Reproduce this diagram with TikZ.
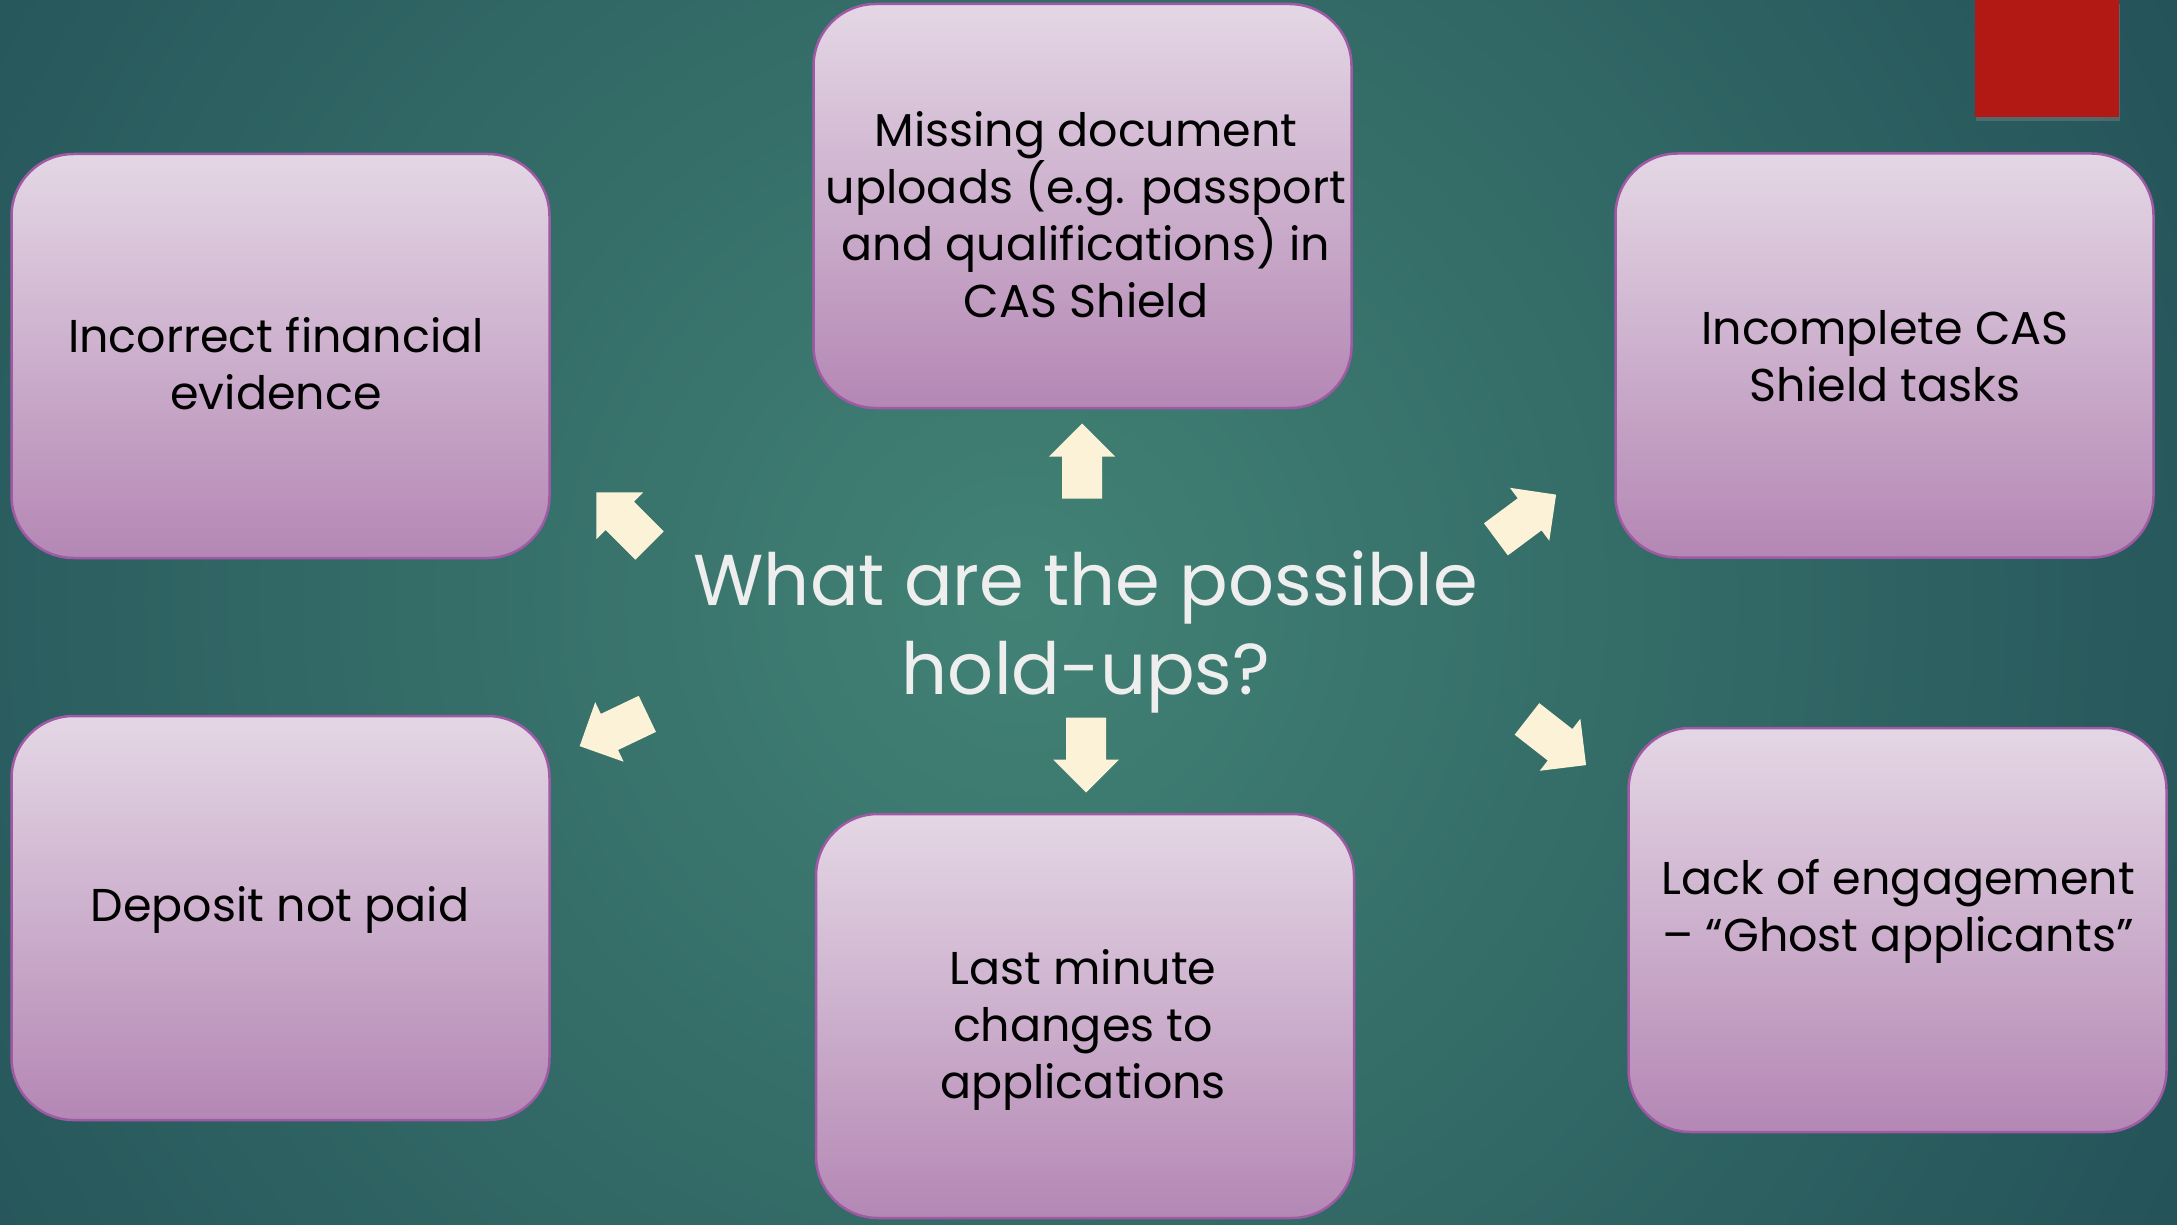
\documentclass[tikz,border=0pt]{standalone}
\usepackage{fontspec}
\setmainfont{Poppins}
\usetikzlibrary{shadows}
\definecolor{bgedge}{RGB}{20,58,74}
\definecolor{bgmid}{RGB}{66,130,117}
\definecolor{boxtop}{RGB}{228,215,229}
\definecolor{boxbot}{RGB}{180,135,180}
\definecolor{boxline}{RGB}{160,90,165}
\definecolor{cream}{RGB}{251,242,216}
\definecolor{redbox}{RGB}{178,24,20}
\definecolor{titlecol}{RGB}{238,238,238}
\tikzset{
  pics/blockarrow/.style={code={
    \fill[cream] (-37.5,-20) -- (4.5,-20) -- (4.5,-33) -- (37.5,0) -- (4.5,33) -- (4.5,20) -- (-37.5,20) -- cycle;}}
}
\begin{document}
\begin{tikzpicture}[x=1pt,y=-1pt,
  hbox/.style={draw=boxline, line width=2.5pt, rounded corners=62pt,
    top color=boxtop, bottom color=boxbot,
    minimum width=538pt, minimum height=404pt, inner sep=0pt},
  htext/.style={text=black, align=center, inner sep=0pt,
    font=\fontsize{46}{57}\selectfont},
  ttext/.style={text=titlecol, align=center, inner sep=0pt,
    font=\fontsize{72}{89}\selectfont}]
\useasboundingbox (0,0) rectangle (2177,1225);
\fill[bgedge] (0,0) rectangle (2177,1225);
\begin{scope}
  \clip (0,0) rectangle (2177,1225);
  \shade[inner color=bgmid, outer color=bgedge] (1020,600) circle[radius=2000pt];
\end{scope}
\fill[redbox, drop shadow={opacity=0.45, shadow xshift=1pt, shadow yshift=-4pt}] (1975,0) rectangle (2119,117);

\node[hbox] (b1) at (280.5,356) {};
\node[hbox] (b2) at (1082.5,206) {};
\node[hbox] (b3) at (1884.5,355.5) {};
\node[hbox] (b4) at (280.5,918) {};
\node[hbox] (b5) at (1085,1016) {};
\node[hbox] (b6) at (1897.5,930) {};

\node[htext] (t1) at (276,364) {Incorrect financial\\evidence};
\node[htext] (t2) at (1086,214.5) {Missing document\\uploads (e.g. passport\\and qualifications) in\\CAS Shield};
\node[htext] (t3) at (1885,356) {Incomplete CAS\\Shield tasks};
\node[htext] (t4) at (280,910) {Deposit not paid};
\node[htext] (t5) at (1083,1030) {Last minute\\changes to\\applications};
\node[htext] (t6) at (1898,911) {Lack of engagement\\-- ``Ghost applicants''};

\node[ttext] (title) at (1086,632) {What are the possible\\hold-ups?};

\pic[rotate=90] (aup) at (1082,461) {blockarrow};
\pic[rotate=-90] (adown) at (1086,755) {blockarrow};
\pic[rotate=135] (anw) at (623,519) {blockarrow};
\pic[rotate=36.6] (ane) at (1526,517) {blockarrow};
\pic[rotate=205.5] (asw) at (613.5,730) {blockarrow};
\pic[rotate=-38] (ase) at (1556.5,742) {blockarrow};
\end{tikzpicture}
\end{document}
